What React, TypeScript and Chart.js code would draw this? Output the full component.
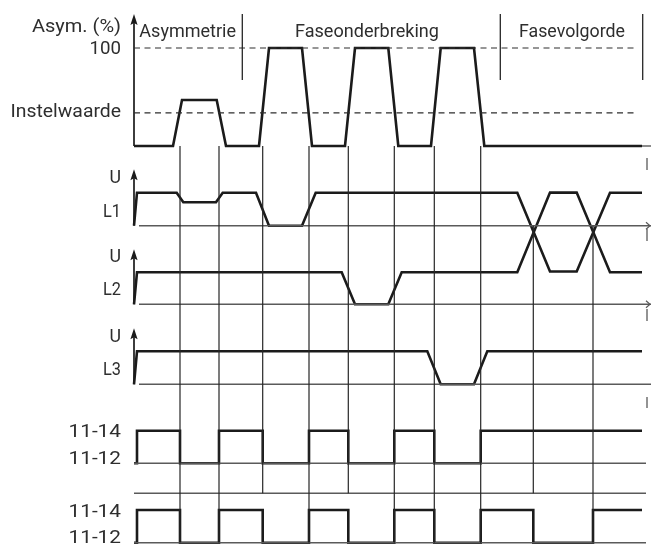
import React, { useEffect, useRef } from "react";
import { Chart, registerables } from "chart.js";

Chart.register(...registerables);

// ---------------- data (time measured from the origin of the vertical axes) ----------------
const asymTimes = [0, 39, 48, 82.7, 92, 125, 135, 168, 178, 211, 221, 254.3, 264.3, 297, 306.7, 340, 350.3, 508];
const asymValues = [0, 0, 47, 47, 0, 0, 100, 100, 0, 0, 100, 100, 0, 0, 100, 100, 0, 0];
const instelwaarde = 33.7;
const asymMax = 100;

const l1Times = [0, 3, 42.7, 49.3, 82, 88.7, 122, 135, 168, 181.7, 383.3, 416, 442.7, 476, 508];
const l1Values = [0, 1, 1, 0.71, 0.71, 1, 1, 0, 0, 1, 1, -1.39, -1.39, 1, 1];
const l2Times = [0, 3, 207.7, 221, 254.3, 267.7, 383.3, 416, 442.7, 476, 508];
const l2Values = [0, 1, 1, 0, 0, 1, 1, 3.49, 3.49, 1, 1];
const l3Times = [0, 3, 293.3, 306.7, 340, 353.3, 508];
const l3Values = [0, 1, 1, 0, 0, 1, 1];

const relay1Times = [0, 3, 46, 85, 128.7, 175, 214.3, 260.3, 300.3, 346.7, 508];
const relay1States = [0, 1, 0, 1, 0, 1, 0, 1, 0, 1, 1];
const relay2Times = [0, 3, 46, 85, 128.7, 175, 214.3, 260.3, 300.3, 346.7, 399.3, 459, 508];
const relay2States = [0, 1, 0, 1, 0, 1, 0, 1, 0, 1, 0, 1, 1];

const eventTimes = [46, 85, 128.7, 175, 214.3, 260.3, 300.3, 346.7, 399.3, 459];
const eventFrom = ["asym", "asym", "asym", "asym", "asym", "asym", "asym", "asym", "L1", "L1"];
const eventTo = ["R2", "R2", "sep", "R2", "sep", "R2", "R2", "R2", "sep", "R2"];

const sectionLabels = ["Asymmetrie", "Faseonderbreking", "Fasevolgorde"];
const sectionCenters = [53.7, 233, 438];
const sectionBounds = [108.3, 366.3, 508.7];

const leftLabels = ["Asym. (%)", "100", "Instelwaarde", "U", "L1", "U", "L2", "U", "L3", "11-14", "11-12", "11-14", "11-12"];

// ---------------- layout ----------------
const T_MIN = -134;
const T_MAX = 517;
const H = 545;
const lanes: Record<string, { zero: number; unit: number }> = {
  asym: { zero: 146, unit: 0.98 },
  L1: { zero: 225.7, unit: 33 },
  L2: { zero: 304.3, unit: 32 },
  L3: { zero: 384.3, unit: 33 },
  R1: { zero: 463.3, unit: 32.6 },
  R2: { zero: 542.7, unit: 32.7 },
  sep: { zero: 493.3, unit: 1 },
};
const leftLabelBaselines = [32, 54, 117, 183.3, 217, 262, 295, 342, 375, 436.7, 464, 516.7, 543];
// target widths of the left labels (px) as seen in the reference
const leftLabelWidths = [89, 31.5, 110.5, 11.5, 18, 11.5, 18, 11.5, 18, 52.5, 52.5, 52.5, 52.5];
const leftLabelSizes = [18, 18, 18, 18, 19, 18, 19, 18, 19, 19, 19, 19, 19];
const sectionWidths = [96.7, 144, 106];
const arrowTips: Record<string, number> = { asym: 14, L1: 169.3, L2: 249.3, L3: 328.3 };

const INK = "#1b1b1b";
const GRID = "#262626";
const GRAY = "#5a5a5a";
const TEXT = "#2e2e2e";

const ly = (ln: string, v: number) => lanes[ln].zero - v * lanes[ln].unit;

export default function App() {
  const ref = useRef<HTMLCanvasElement>(null);

  useEffect(() => {
    const canvas = ref.current!;
    const ds: any[] = [];
    const line = (pts: { x: number; y: number }[], color: string, width: number, extra: any = {}) =>
      ds.push({
        data: pts,
        showLine: true,
        pointRadius: 0,
        pointHoverRadius: 0,
        borderColor: color,
        borderWidth: width,
        fill: false,
        tension: 0,
        clip: false,
        ...extra,
      });

    // event (vertical) grid lines
    eventTimes.forEach((t, i) => {
      line([{ x: t, y: ly(eventFrom[i], 0) }, { x: t, y: ly(eventTo[i], 0) }], GRID, 1.2);
    });

    // section separators
    sectionBounds.forEach((t) => line([{ x: t, y: 14 }, { x: t, y: 80 }], GRID, 1.3));

    // dashed reference levels
    [asymMax, instelwaarde].forEach((v) =>
      line([{ x: 0, y: ly("asym", v) }, { x: 500, y: ly("asym", v) }], "#2e2e2e", 1.2, { borderDash: [6, 4.5] })
    );

    // lane baselines
    line([{ x: 508, y: ly("asym", 0) }, { x: T_MAX, y: ly("asym", 0) }], GRAY, 1.4);
    ["L1", "L2", "L3"].forEach((ln) => line([{ x: 5, y: ly(ln, 0) }, { x: T_MAX, y: ly(ln, 0) }], GRAY, 1.5));
    ["R1", "sep", "R2"].forEach((ln) => line([{ x: 0, y: ly(ln, 0) }, { x: 512, y: ly(ln, 0) }], GRAY, 1.5));

    // right-edge fragments
    [[158, 170], [229, 241], [309, 321], [397, 408]].forEach(([a, b]) =>
      line([{ x: 513, y: a }, { x: 513, y: b }], GRAY, 1.3)
    );
    ["L1", "L2"].forEach((ln) => {
      const y0 = ly(ln, 0);
      line([{ x: 512, y: y0 - 3.5 }, { x: 516, y: y0 }, { x: 512, y: y0 + 3.5 }], GRAY, 1.2);
    });

    // axis stems
    ["asym", "L1", "L2", "L3"].forEach((ln) =>
      line([{ x: 0, y: ly(ln, 0) }, { x: 0, y: arrowTips[ln] + 6 }], INK, 1.7)
    );

    // traces
    line(asymTimes.map((t, i) => ({ x: t, y: ly("asym", asymValues[i]) })), INK, 2.6);
    line(l1Times.map((t, i) => ({ x: t, y: ly("L1", l1Values[i]) })), INK, 2.6);
    line(l2Times.map((t, i) => ({ x: t, y: ly("L2", l2Values[i]) })), INK, 2.6);
    line(l3Times.map((t, i) => ({ x: t, y: ly("L3", l3Values[i]) })), INK, 2.6);
    line(relay1Times.map((t, i) => ({ x: t, y: ly("R1", relay1States[i]) })), INK, 2.6, { stepped: "before" });
    line(relay2Times.map((t, i) => ({ x: t, y: ly("R2", relay2States[i]) })), INK, 2.6, { stepped: "before" });

    const fitText = (ctx: CanvasRenderingContext2D, s: string, size: number, width: number, x: number, y: number, align: "right" | "center") => {
      ctx.font = `${size}px Roboto`;
      const w = ctx.measureText(s).width;
      const k = Math.max(0.8, Math.min(1.25, width / w));
      ctx.save();
      ctx.translate(x, y);
      ctx.scale(k, 1);
      ctx.textAlign = align;
      ctx.fillText(s, 0, 0);
      ctx.restore();
    };

    const overlay = {
      id: "overlay",
      afterDatasetsDraw(chart: any) {
        const { ctx } = chart;
        const xs = chart.scales.x;
        const ys = chart.scales.y;
        ctx.save();
        // arrowheads
        ctx.fillStyle = INK;
        Object.keys(arrowTips).forEach((ln) => {
          const px = xs.getPixelForValue(0);
          const tip = ys.getPixelForValue(arrowTips[ln]);
          ctx.beginPath();
          ctx.moveTo(px, tip);
          ctx.lineTo(px + 3.6, tip + 11);
          ctx.lineTo(px, tip + 9);
          ctx.lineTo(px - 3.6, tip + 11);
          ctx.closePath();
          ctx.fill();
        });
        // texts
        ctx.fillStyle = TEXT;
        ctx.textBaseline = "alphabetic";
        const lx = xs.getPixelForValue(-13);
        leftLabels.forEach((s, i) => {
          fitText(ctx, s, leftLabelSizes[i], leftLabelWidths[i], lx, ys.getPixelForValue(leftLabelBaselines[i]), "right");
        });
        sectionLabels.forEach((s, i) => {
          fitText(ctx, s, 18, sectionWidths[i], xs.getPixelForValue(sectionCenters[i]), ys.getPixelForValue(37), "center");
        });
        ctx.restore();
      },
    };

    const chart = new Chart(canvas, {
      type: "scatter",
      data: { datasets: ds },
      options: {
        responsive: false,
        maintainAspectRatio: false,
        animation: false,
        events: [],
        layout: { padding: 0 },
        plugins: { legend: { display: false }, tooltip: { enabled: false } },
        scales: {
          x: { type: "linear", display: false, min: T_MIN, max: T_MAX },
          y: { type: "linear", display: false, min: 0, max: H, reverse: true },
        },
      },
      plugins: [overlay],
    } as any);
    return () => chart.destroy();
  }, []);

  return (
    <div style={{ position: "absolute", left: 0, top: 0, width: 651, height: 545, background: "#fff" }}>
      <canvas ref={ref} width={651} height={545} style={{ display: "block", width: 651, height: 545 }} />
    </div>
  );
}
